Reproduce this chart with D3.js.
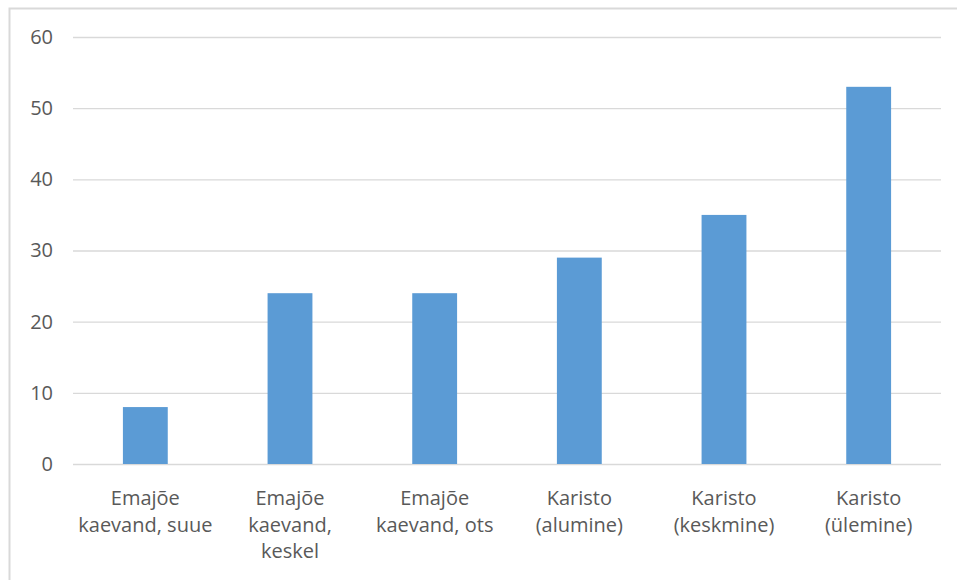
<!DOCTYPE html>
<html>
<head>
<meta charset="utf-8">
<script src="https://cdn.jsdelivr.net/npm/d3@7"></script>
<style>
  body { margin: 0; background: #fff; }
  svg text { font-family: "Open Sans", "Noto Sans", sans-serif; fill: #595959; }
</style>
</head>
<body>
<script>
// data
var categories = [
  ["Emajõe", "kaevand, suue"],
  ["Emajõe", "kaevand,", "keskel"],
  ["Emajõe", "kaevand, ots"],
  ["Karisto", "(alumine)"],
  ["Karisto", "(keskmine)"],
  ["Karisto", "(ülemine)"]
];
var values = [8, 24, 24, 29, 35, 53];
var yTicks = [0, 10, 20, 30, 40, 50, 60];

var W = 957, H = 580;
var margin = {top: 37, right: 16, bottom: 116, left: 73};

var svg = d3.select("body").append("svg")
    .attr("width", W)
    .attr("height", H);

// chart frame (only top/left visible in crop)
svg.append("path")
    .attr("d", "M9.5," + H + "V8.5H" + W)
    .attr("fill", "none")
    .attr("stroke", "#d9d9d9")
    .attr("stroke-width", 2);

var x = d3.scaleBand()
    .domain(d3.range(categories.length))
    .range([margin.left, W - margin.right])
    .paddingInner(0.69)
    .paddingOuter(0.345);

var y = d3.scaleLinear()
    .domain([0, 60])
    .range([H - margin.bottom, margin.top]);

// gridlines
var yaxis = svg.append("g")
    .attr("transform", "translate(" + margin.left + ",0)")
    .call(d3.axisLeft(y).tickValues(yTicks).tickSize(-(W - margin.right - margin.left)).tickPadding(20));
yaxis.select(".domain").remove();
yaxis.selectAll(".tick line")
    .attr("stroke", "#d9d9d9")
    .attr("stroke-width", 1.3);
yaxis.selectAll(".tick text")
    .attr("font-size", 20)
    .style("fill", "#595959");

// bars
svg.append("g").selectAll("rect")
    .data(values)
    .enter().append("rect")
    .attr("x", function(d, i) { return x(i); })
    .attr("y", function(d) { return y(d); })
    .attr("width", x.bandwidth())
    .attr("height", function(d) { return y(0) - y(d); })
    .attr("fill", "#5b9bd5");

// category labels
var lab = svg.append("g").selectAll("text")
    .data(categories)
    .enter().append("text")
    .attr("text-anchor", "middle")
    .attr("font-size", 20)
    .attr("x", function(d, i) { return x(i) + x.bandwidth() / 2; });
lab.selectAll("tspan")
    .data(function(d) { return d; })
    .enter().append("tspan")
    .attr("x", function() { return d3.select(this.parentNode).attr("x"); })
    .attr("y", function(d, j) { return y(0) + 41 + j * 26.5; })
    .text(function(d) { return d; });
</script>
</body>
</html>
